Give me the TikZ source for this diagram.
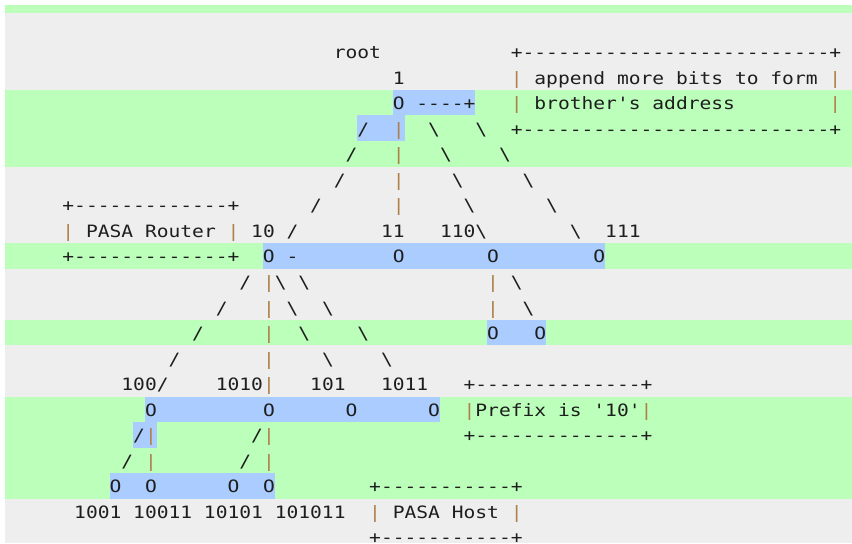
\documentclass[tikz,border=0pt]{standalone}
\usepackage{fontspec}
\setmonofont{DejaVu Sans Mono}[FakeStretch=1.153]
\usepackage{tikz}
\usepackage{xcolor}

\definecolor{rowgray}{HTML}{EEEEEE}
\definecolor{rowgreen}{HTML}{BBFFBB}
\definecolor{markblue}{HTML}{AACCFF}
\definecolor{pipec}{HTML}{B0804A}
\definecolor{ink}{HTML}{1E1E1E}

\newcommand\vb{\textcolor{pipec}{|}}
\newcommand\bs{\textbackslash}
\newcommand\gap[1]{\kern#1\fontcharwd\font`O\relax}
\newcommand\dashes[1]{\foreach\i in {1,...,#1}{-}}

\begin{document}
\begin{tikzpicture}[
  x=11.8pt, y=-25.55pt,
  plain/.style={fill=rowgray},
  changed/.style={fill=rowgreen},
  hilite/.style={fill=markblue},
  art/.style={anchor=base west,inner sep=0pt,outer sep=0pt,text=ink,
    font=\ttfamily\fontsize{17pt}{20pt}\selectfont}
]
\useasboundingbox[fill=white] (-1.2881,-0.5205) rectangle (70.915,20.732);

% row bands
\fill[changed] (-0.8644,-0.3249) rectangle (70.915,0);
\fill[plain]   (-0.8644,0) rectangle (70.915,3);
\fill[changed] (-0.8644,3) rectangle (70.915,6);
\fill[plain]   (-0.8644,6) rectangle (70.915,9);
\fill[changed] (-0.8644,9) rectangle (70.915,10);
\fill[plain]   (-0.8644,10) rectangle (70.915,12);
\fill[changed] (-0.8644,12) rectangle (70.915,13);
\fill[plain]   (-0.8644,13) rectangle (70.915,15);
\fill[changed] (-0.8644,15) rectangle (70.915,19);
\fill[plain]   (-0.8644,19) rectangle (70.915,20.732);

% highlighted spans
\fill[hilite] (32,3) rectangle (39,4);
\fill[hilite] (29,4) rectangle (33,5);
\fill[hilite] (21,9) rectangle (50,10);
\fill[hilite] (40,12) rectangle (45,13);
\fill[hilite] (11,15) rectangle (36,16);
\fill[hilite] (10,16) rectangle (12,17);
\fill[hilite] (8,18) rectangle (22,19);

% the text lines
\node[art] (line1) at (27,1.77) {root\gap{11}+\dashes{26}+};
\node[art] (line2) at (32,2.77) {1\gap{9}\vb\gap{1}append more bits to form\gap{1}\vb};
\node[art] (line3) at (32,3.77) {O\gap{1}\dashes{4}+\gap{3}\vb\gap{1}brother's address\gap{8}\vb};
\node[art] (line4) at (29,4.77) {/\gap{2}\vb\gap{2}\bs\gap{3}\bs\gap{2}+\dashes{26}+};
\node[art] (line5) at (28,5.77) {/\gap{3}\vb\gap{3}\bs\gap{4}\bs};
\node[art] (line6) at (27,6.77) {/\gap{4}\vb\gap{4}\bs\gap{5}\bs};
\node[art] (line7) at (4,7.77) {+\dashes{13}+\gap{6}/\gap{6}\vb\gap{5}\bs\gap{6}\bs};
\node[art] (line8) at (4,8.77) {\vb\gap{1}PASA Router\gap{1}\vb\gap{1}10\gap{1}/\gap{7}11\gap{3}110\bs\gap{7}\bs\gap{2}111};
\node[art] (line9) at (4,9.77) {+\dashes{13}+\gap{2}O\gap{1}-\gap{8}O\gap{7}O\gap{8}O};
\node[art] (line10) at (19,10.77) {/\gap{1}\vb\bs\gap{1}\bs\gap{15}\vb\gap{1}\bs};
\node[art] (line11) at (17,11.77) {/\gap{3}\vb\gap{1}\bs\gap{2}\bs\gap{13}\vb\gap{2}\bs};
\node[art] (line12) at (15,12.77) {/\gap{5}\vb\gap{2}\bs\gap{4}\bs\gap{10}O\gap{3}O};
\node[art] (line13) at (13,13.77) {/\gap{7}\vb\gap{4}\bs\gap{4}\bs};
\node[art] (line14) at (9,14.77) {100/\gap{4}1010\vb\gap{3}101\gap{3}1011\gap{3}+\dashes{14}+};
\node[art] (line15) at (11,15.77) {O\gap{9}O\gap{6}O\gap{6}O\gap{2}\vb{}Prefix is '10'\vb};
\node[art] (line16) at (10,16.77) {/\vb\gap{8}/\vb\gap{16}+\dashes{14}+};
\node[art] (line17) at (9,17.77) {/\gap{1}\vb\gap{7}/\gap{1}\vb};
\node[art] (line18) at (8,18.77) {O\gap{2}O\gap{6}O\gap{2}O\gap{8}+\dashes{11}+};
\node[art] (line19) at (5,19.77) {1001 10011 10101 101011\gap{2}\vb\gap{1}PASA Host\gap{1}\vb};
\node[art] (line20) at (30,20.77) {+\dashes{11}+};
\end{tikzpicture}
\end{document}
